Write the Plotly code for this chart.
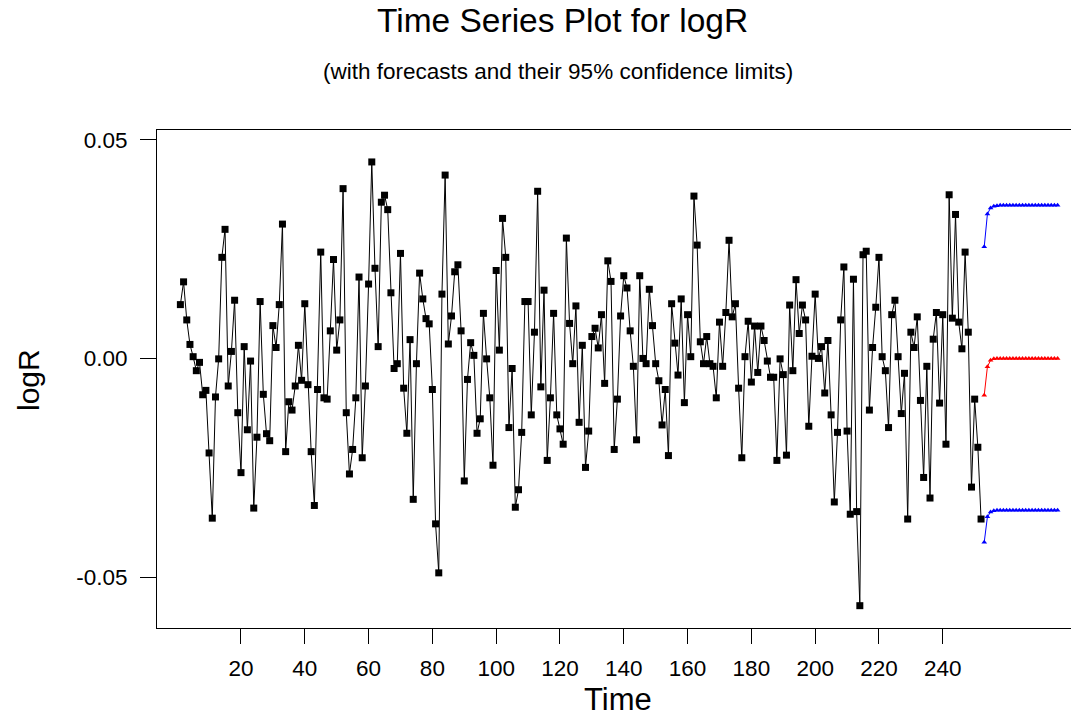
import plotly.graph_objects as go

# observed log returns, t = 1..252
logR = [
    0.0123, 0.0175, 0.0088, 0.0032, 0.0004, -0.0028, -0.0009, -0.0083, -0.0073, -0.0216,
    -0.0365, -0.0088, -0.0001, 0.0231, 0.0295, -0.0063, 0.0016, 0.0133, -0.0124, -0.0261,
    0.0027, -0.0163, -0.0006, -0.0342, -0.0180, 0.0130, -0.0082, -0.0172, -0.0188, 0.0075,
    0.0025, 0.0123, 0.0307, -0.0213, -0.0099, -0.0118, -0.0063, 0.0030, -0.0050, 0.0125,
    -0.0060, -0.0213, -0.0336, -0.0071, 0.0243, -0.0090, -0.0093, 0.0063, 0.0226, 0.0019,
    0.0088, 0.0388, -0.0124, -0.0264, -0.0208, -0.0090, 0.0186, -0.0227, -0.0063, 0.0170,
    0.0449, 0.0206, 0.0027, 0.0357, 0.0373, 0.0340, 0.0150, -0.0023, -0.0012, 0.0240,
    -0.0068, -0.0171, 0.0043, -0.0322, -0.0012, 0.0195, 0.0136, 0.0091, 0.0079, -0.0071,
    -0.0378, -0.0490, 0.0147, 0.0419, 0.0033, 0.0097, 0.0198, 0.0214, 0.0063, -0.0280,
    -0.0048, 0.0036, 0.0007, -0.0171, -0.0138, 0.0103, -0.0001, -0.0090, -0.0244, 0.0201,
    0.0019, 0.0320, 0.0231, -0.0158, -0.0023, -0.0340, -0.0300, -0.0169, 0.0130, 0.0130,
    -0.0129, 0.0060, 0.0382, -0.0065, 0.0156, -0.0233, -0.0090, 0.0103, -0.0129, -0.0161,
    -0.0196, 0.0275, 0.0080, -0.0012, 0.0120, -0.0146, 0.0030, -0.0249, -0.0166, 0.0050,
    0.0069, 0.0024, 0.0100, -0.0057, 0.0223, 0.0176, -0.0208, -0.0093, 0.0097, 0.0189,
    0.0161, 0.0063, -0.0018, -0.0186, 0.0189, 0.0000, -0.0012, 0.0158, 0.0075, -0.0012,
    -0.0051, -0.0152, -0.0071, -0.0222, 0.0125, 0.0035, -0.0038, 0.0136, -0.0101, 0.0100,
    0.0004, 0.0371, 0.0259, 0.0038, -0.0012, 0.0050, -0.0012, -0.0018, -0.0090, 0.0083,
    -0.0018, 0.0105, 0.0270, 0.0095, 0.0125, -0.0068, -0.0227, 0.0004, 0.0085, -0.0054,
    0.0074, -0.0032, 0.0074, 0.0041, -0.0006, -0.0043, -0.0043, -0.0233, -0.0001, -0.0037,
    -0.0221, 0.0122, -0.0028, 0.0180, 0.0057, 0.0122, 0.0088, -0.0155, 0.0005, 0.0147,
    0.0000, 0.0027, -0.0079, 0.0041, -0.0129, -0.0328, -0.0169, 0.0088, 0.0209, -0.0166,
    -0.0356, 0.0181, -0.0350, -0.0565, 0.0237, 0.0245, -0.0118, 0.0025, 0.0117, 0.0231,
    0.0004, -0.0028, -0.0158, 0.0100, 0.0133, 0.0004, -0.0126, -0.0034, -0.0367, 0.0060,
    0.0025, 0.0095, -0.0096, -0.0272, -0.0018, -0.0319, 0.0044, 0.0105, -0.0102, 0.0100,
    -0.0196, 0.0374, 0.0092, 0.0329, 0.0083, 0.0022, 0.0243, 0.0060, -0.0294, -0.0093,
    -0.0203, -0.0367,
]
time = list(range(1, len(logR) + 1))

# forecasts, t = 253..276
forecast = [-0.0084, -0.0019, -0.0004, -0.0001, 0.0000, 0.0000, 0.0000, 0.0000,
            0.0000, 0.0000, 0.0000, 0.0000, 0.0000, 0.0000, 0.0000, 0.0000,
            0.0000, 0.0000, 0.0000, 0.0000, 0.0000, 0.0000, 0.0000, 0.0000]
upper95 = [0.0255, 0.0330, 0.0344, 0.0348, 0.0349, 0.0350, 0.0350, 0.0350,
           0.0350, 0.0350, 0.0350, 0.0350, 0.0350, 0.0350, 0.0350, 0.0350,
           0.0350, 0.0350, 0.0350, 0.0350, 0.0350, 0.0350, 0.0350, 0.0350]
lower95 = [-0.0420, -0.0362, -0.0351, -0.0348, -0.0347, -0.0347, -0.0347, -0.0347,
           -0.0347, -0.0347, -0.0347, -0.0347, -0.0347, -0.0347, -0.0347, -0.0347,
           -0.0347, -0.0347, -0.0347, -0.0347, -0.0347, -0.0347, -0.0347, -0.0347]
ftime = list(range(len(logR) + 1, len(logR) + 1 + len(forecast)))

xtick_vals = [20, 40, 60, 80, 100, 120, 140, 160, 180, 200, 220, 240]
ytick_vals = [-0.05, 0.0, 0.05]
ytick_text = ["-0.05", "0.00", "0.05"]

FONT = "Liberation Sans, Arial, sans-serif"
W, H = 1071, 717
L, R, T, B = 157, 0, 130, 89

fig = go.Figure()
fig.add_trace(go.Scatter(
    x=time, y=logR, mode="lines+markers",
    line=dict(color="black", width=1),
    marker=dict(symbol="square", size=7, color="black"),
    showlegend=False))
for vals, col in ((upper95, "blue"), (forecast, "red"), (lower95, "blue")):
    fig.add_trace(go.Scatter(
        x=ftime, y=vals, mode="lines+markers",
        line=dict(color=col, width=1),
        marker=dict(symbol="triangle-up", size=5, color=col),
        showlegend=False))

pw = W - L - R
ph = H - T - B


def px_x(px):
    return (px - L) / pw


def px_y(py):
    return (H - B - py) / ph


axis_common = dict(
    showline=True, linecolor="black", linewidth=1,
    ticks="outside", tickcolor="black", tickwidth=1,
    showgrid=False, zeroline=False,
    tickfont=dict(family=FONT, size=22.5, color="black"),
)

fig.update_layout(
    width=W, height=H,
    margin=dict(l=L, r=R, t=T, b=B, pad=0),
    paper_bgcolor="white", plot_bgcolor="white",
    xaxis=dict(range=[-6.33, 280.2], tickvals=xtick_vals, ticklen=15,
               mirror=True, ticklabelstandoff=5, **axis_common),
    yaxis=dict(range=[-0.0616, 0.0522], tickvals=ytick_vals, ticktext=ytick_text,
               ticklen=16, ticklabelstandoff=8, **axis_common),
    annotations=[
        dict(text="Time Series Plot for logR", x=px_x(562), y=px_y(21),
             xref="paper", yref="paper", showarrow=False,
             xanchor="center", yanchor="middle",
             font=dict(family=FONT, size=33.5, color="black")),
        dict(text="(with forecasts and their 95% confidence limits)",
             x=px_x(558), y=px_y(71), xref="paper", yref="paper",
             showarrow=False, xanchor="center", yanchor="middle",
             font=dict(family=FONT, size=22.5, color="black")),
        dict(text="Time", x=px_x(618), y=px_y(699), xref="paper", yref="paper",
             showarrow=False, xanchor="center", yanchor="middle",
             font=dict(family=FONT, size=31, color="black")),
        dict(text="logR", x=px_x(28), y=px_y(380), xref="paper", yref="paper",
             showarrow=False, xanchor="center", yanchor="middle", textangle=-90,
             font=dict(family=FONT, size=30, color="black")),
    ],
)

fig.write_html("out.html")
